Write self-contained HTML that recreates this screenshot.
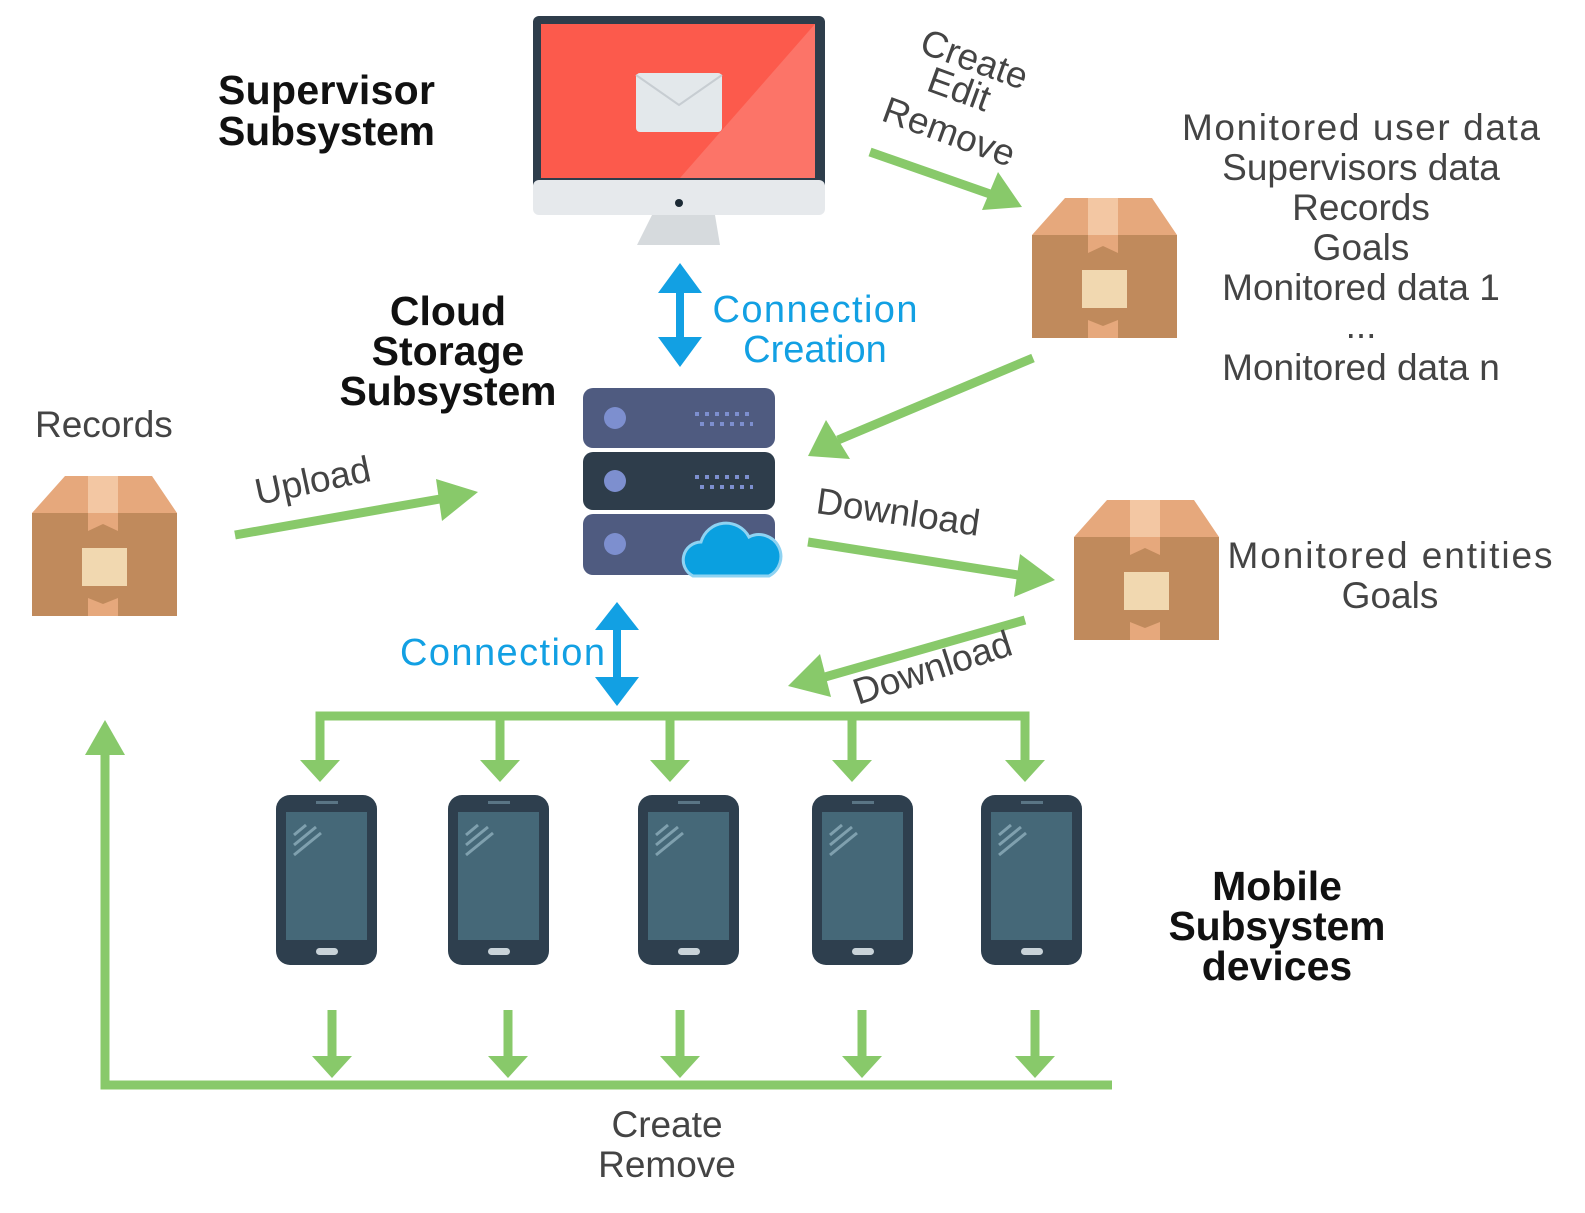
<!DOCTYPE html>
<html><head><meta charset="utf-8"><style>
html,body{margin:0;padding:0;background:#fff}
svg{display:block}
text{font-family:"Liberation Sans",sans-serif}
.t{font-weight:bold;fill:#111;font-size:41px}
.g{fill:#444;font-size:37px}
.b{fill:#12a0e3;font-size:38px}
</style></head><body>
<svg width="1585" height="1213" viewBox="0 0 1585 1213" xmlns="http://www.w3.org/2000/svg">
<defs>
<g id="box">
<polygon points="33,0 120,0 145,37 0,37" fill="#e6a87c"/>
<rect x="0" y="37" width="145" height="103" fill="#c08a5c"/>
<rect x="56" y="0" width="30" height="37" fill="#f3c7a3"/>
<polygon points="56,37 86,37 86,55 71,48 56,55" fill="#e6a87c"/>
<polygon points="56,140 86,140 86,122 71,128 56,122" fill="#e6a87c"/>
<rect x="50" y="72" width="45" height="38" fill="#f1d8b0"/>
</g>
<g id="phone">
<rect x="0" y="0" width="101" height="170" rx="14" fill="#2e3f4e"/>
<rect x="10" y="17" width="81" height="128" fill="#456878"/>
<rect x="40" y="6" width="22" height="3" fill="#5a7585"/>
<rect x="40" y="153" width="22" height="7" rx="3.5" fill="#c9d3d9"/>
<path d="M18 40 L30 30 M18 50 L40 32 M18 60 L45 38" stroke="#7fa0ae" stroke-width="3"/>
</g>
</defs>

<!-- monitor -->
<rect x="533" y="16" width="292" height="182" rx="6" fill="#2e3d4b"/>
<rect x="541" y="24" width="274" height="154" fill="#fc5a4c"/>
<polygon points="680,178 815,24 815,178" fill="#fc7468"/>
<rect x="533" y="180" width="292" height="35" rx="6" fill="#e6e9ec"/>
<circle cx="679" cy="203" r="4" fill="#1c2a35"/>
<polygon points="652,215 715,215 720,245 637,245" fill="#d6dadd"/>
<rect x="636" y="73" width="86" height="59" rx="4" fill="#e3e8eb"/>
<path d="M636,75 L679,105 L722,75" stroke="#c7cdd2" stroke-width="2" fill="none"/>

<!-- server -->
<rect x="583" y="388" width="192" height="60" rx="10" fill="#4f5b80"/>
<rect x="583" y="452" width="192" height="58" rx="10" fill="#2e3d4b"/>
<rect x="583" y="514" width="192" height="61" rx="10" fill="#4f5b80"/>
<circle cx="615" cy="418" r="11" fill="#7d8fcf"/>
<circle cx="615" cy="481" r="11" fill="#7d8fcf"/>
<circle cx="615" cy="544" r="11" fill="#7d8fcf"/>
<path d="M695,414 h58 M700,424 h53 M695,477 h58 M700,487 h53" stroke="#7d8fcf" stroke-width="4" stroke-dasharray="4,6"/>
<path d="M693,576 a18,18 0 0 1 8,-34 a26,26 0 0 1 48,-5 a18,18 0 0 1 20,39 z" fill="#0aa0e0" stroke="#8fd3f2" stroke-width="3"/>

<!-- boxes -->
<use href="#box" x="32" y="476"/>
<use href="#box" x="1032" y="198"/>
<use href="#box" x="1074" y="500"/>

<!-- phones -->
<use href="#phone" x="276" y="795"/>
<use href="#phone" x="448" y="795"/>
<use href="#phone" x="638" y="795"/>
<use href="#phone" x="812" y="795"/>
<use href="#phone" x="981" y="795"/>

<!-- green connectors -->
<g stroke="#88c96a" stroke-width="9" fill="none">
<path d="M320,760 V716 H1025 V760"/>
<path d="M500,716 V760 M670,716 V760 M852,716 V760"/>
<path d="M332,1010 V1058 M508,1010 V1058 M680,1010 V1058 M862,1010 V1058 M1035,1010 V1058"/>
<path d="M1112,1085 H105 V750"/>
<path d="M870,152 L990,194"/>
<path d="M1033,358 L838,440"/>
<path d="M235,535 L440,499"/>
<path d="M808,542 L1018,575"/>
<path d="M1025,620 L825,677"/>
</g>
<g fill="#88c96a">
<polygon points="300,760 340,760 320,782"/><polygon points="480,760 520,760 500,782"/><polygon points="650,760 690,760 670,782"/><polygon points="832,760 872,760 852,782"/><polygon points="1005,760 1045,760 1025,782"/>
<polygon points="312,1056 352,1056 332,1078"/><polygon points="488,1056 528,1056 508,1078"/><polygon points="660,1056 700,1056 680,1078"/><polygon points="842,1056 882,1056 862,1078"/><polygon points="1015,1056 1055,1056 1035,1078"/>
<polygon points="85,755 125,755 105,720"/>
<polygon points="1022,207 982,210 998,172"/>
<polygon points="808,456 826,420 850,459"/>
<polygon points="478,492 436,479 442,521"/>
<polygon points="1055,580 1020,554 1014,597"/>
<polygon points="788,686 820,654 831,697"/>
</g>

<!-- blue arrows -->
<g stroke="#12a0e3" stroke-width="8"><path d="M680,285 V345"/><path d="M617,622 V685"/></g>
<g fill="#12a0e3">
<polygon points="658,293 702,293 680,263"/><polygon points="658,337 702,337 680,367"/>
<polygon points="595,630 639,630 617,602"/><polygon points="595,677 639,677 617,706"/>
</g>

<!-- titles -->
<text class="t" x="218" y="104" textLength="217">Supervisor</text>
<text class="t" x="218" y="145" textLength="217">Subsystem</text>
<text class="t" x="448" y="325" text-anchor="middle">Cloud</text>
<text class="t" x="448" y="365" text-anchor="middle">Storage</text>
<text class="t" x="448" y="405" text-anchor="middle" textLength="217">Subsystem</text>
<text class="t" x="1277" y="900" text-anchor="middle">Mobile</text>
<text class="t" x="1277" y="940" text-anchor="middle" textLength="217">Subsystem</text>
<text class="t" x="1277" y="980" text-anchor="middle">devices</text>

<text class="g" x="1361" y="140" text-anchor="middle" textLength="358">Monitored user data</text>
<text class="g" x="1361" y="180" text-anchor="middle">Supervisors data</text>
<text class="g" x="1361" y="220" text-anchor="middle">Records</text>
<text class="g" x="1361" y="260" text-anchor="middle">Goals</text>
<text class="g" x="1361" y="300" text-anchor="middle">Monitored data 1</text>
<text class="g" x="1361" y="338" text-anchor="middle">...</text>
<text class="g" x="1361" y="380" text-anchor="middle">Monitored data n</text>
<text class="g" x="1390" y="568" text-anchor="middle" textLength="325">Monitored entities</text>
<text class="g" x="1390" y="608" text-anchor="middle">Goals</text>
<text class="g" x="667" y="1137" text-anchor="middle">Create</text>
<text class="g" x="667" y="1177" text-anchor="middle">Remove</text>
<text class="g" x="35" y="437">Records</text>
<text class="g" transform="translate(918,52) rotate(20)">Create</text>
<text class="g" transform="translate(925,90) rotate(20)">Edit</text>
<text class="g" transform="translate(880,120) rotate(20)">Remove</text>
<text class="g" transform="translate(258,505) rotate(-12)">Upload</text>
<text class="g" transform="translate(815,513) rotate(8)">Download</text>
<text class="g" transform="translate(858,705) rotate(-18)">Download</text>

<text class="b" x="815" y="322" text-anchor="middle" textLength="205">Connection</text>
<text class="b" x="815" y="362" text-anchor="middle">Creation</text>
<text class="b" x="400" y="665" textLength="205">Connection</text>
</svg>
</body></html>
